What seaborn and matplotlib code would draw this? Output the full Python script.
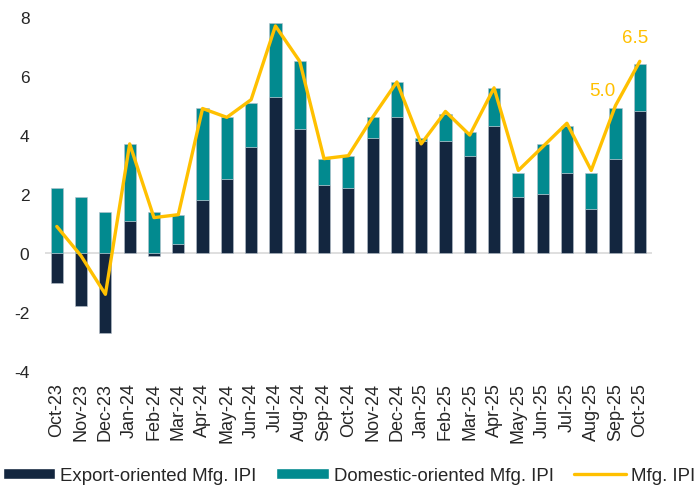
import numpy as np
import pandas as pd
import matplotlib
matplotlib.use("Agg")
import matplotlib.pyplot as plt
from matplotlib.patches import Patch
from matplotlib.lines import Line2D
import seaborn as sns

months = ["Oct-23", "Nov-23", "Dec-23", "Jan-24", "Feb-24", "Mar-24", "Apr-24", "May-24",
          "Jun-24", "Jul-24", "Aug-24", "Sep-24", "Oct-24", "Nov-24", "Dec-24", "Jan-25",
          "Feb-25", "Mar-25", "Apr-25", "May-25", "Jun-25", "Jul-25", "Aug-25", "Sep-25", "Oct-25"]
export_ipi = [-1.0, -1.8, -2.7, 1.1, -0.1, 0.3, 1.8, 2.5, 3.6, 5.3, 4.2, 2.3, 2.2,
              3.9, 4.6, 3.8, 3.8, 3.3, 4.3, 1.9, 2.0, 2.7, 1.5, 3.2, 4.8]
domestic_ipi = [2.2, 1.9, 1.4, 2.6, 1.4, 1.0, 3.1, 2.1, 1.5, 2.5, 2.3, 0.9, 1.1,
                0.7, 1.2, 0.1, 0.9, 0.8, 1.3, 0.8, 1.7, 1.6, 1.2, 1.7, 1.6]
mfg_ipi = [0.9, -0.1, -1.4, 3.7, 1.2, 1.3, 4.9, 4.6, 5.2, 7.7, 6.5, 3.2, 3.3,
           4.6, 5.8, 3.7, 4.8, 4.0, 5.6, 2.8, 3.6, 4.4, 2.8, 5.0, 6.5]
y_ticks = [-4, -2, 0, 2, 4, 6, 8]
# value labels on the last two points: (label, x offset pt, y offset pt)
labelled = {"Sep-25": ("5.0", -9.4, 10.8), "Oct-25": ("6.5", -3.6, 17.0)}

NAVY = "#13263f"
TEAL = "#028a8f"
GOLD = "#ffc000"

sns.set_style("white")
plt.rcParams["font.family"] = ["Liberation Sans", "DejaVu Sans"]
plt.rcParams["axes.unicode_minus"] = False

df = pd.DataFrame({"month": months, "export": export_ipi,
                   "domestic": domestic_ipi, "total": mfg_ipi})
df["base"] = np.maximum(df["export"], 0)

fig = plt.figure(figsize=(6.98, 5.02), dpi=100)
ax = fig.add_axes([0.064, 0.259, 0.870, 0.705])

sns.barplot(data=df, x="month", y="export", color=NAVY, width=0.5, saturation=1,
            edgecolor="#b8c2cc", linewidth=0.4, ax=ax)
sns.barplot(data=df, x="month", y="domestic", bottom=df["base"].values, color=TEAL,
            width=0.5, saturation=1, edgecolor="#b8c2cc", linewidth=0.4, ax=ax)
sns.lineplot(x=np.arange(len(months)), y=df["total"], color=GOLD, linewidth=2.4,
             ax=ax, zorder=5)

ax.axhline(0, color="#d9d9d9", linewidth=1.2, zorder=0.5)

for i, m in enumerate(months):
    if m in labelled:
        txt, dx, dy = labelled[m]
        ax.annotate(txt, (i, mfg_ipi[i]), xytext=(dx, dy),
                    textcoords="offset points", ha="center", va="center",
                    color=GOLD, fontsize=13.5)

ax.set_xlim(-0.5, len(months) - 0.5)
ax.set_ylim(-4, 8)
ax.set_yticks(y_ticks)
ax.set_xlabel("")
ax.set_ylabel("")
ax.tick_params(axis="x", rotation=90, length=0, pad=8, labelsize=13)
ax.tick_params(axis="y", length=0, pad=11, labelsize=12.5)
for s in ax.spines.values():
    s.set_visible(False)

handles = [Patch(facecolor=NAVY), Patch(facecolor=TEAL),
           Line2D([0], [0], color=GOLD, linewidth=2.4)]
fig.legend(handles, ["Export-oriented Mfg. IPI", "Domestic-oriented Mfg. IPI", "Mfg. IPI"],
           loc="center", bbox_to_anchor=(0.5, 0.05), ncol=3, frameon=False,
           fontsize=13.4, handlelength=2.8, handleheight=0.5, handletextpad=0.27,
           columnspacing=1.1, borderpad=0, borderaxespad=0)

fig.savefig("out.png", dpi=100)
